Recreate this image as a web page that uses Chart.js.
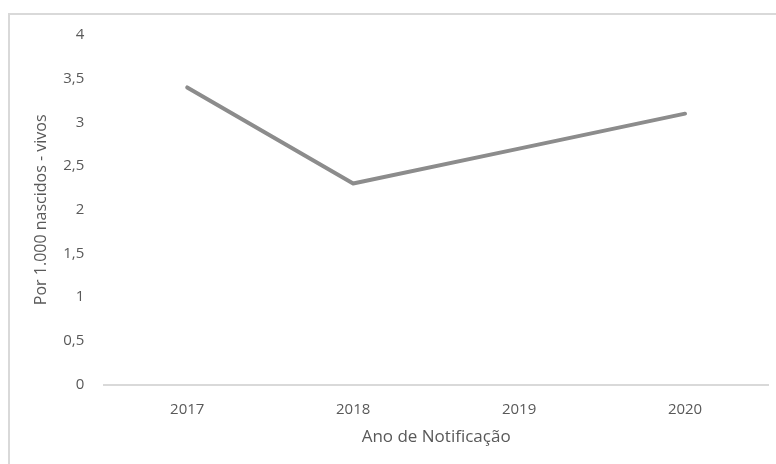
<!DOCTYPE html>
<html>
<head>
<meta charset="utf-8">
<script src="https://cdn.jsdelivr.net/npm/chart.js@4"></script>
<style>
    html, body { margin: 0; padding: 0; background: #fff; }
    .wrap { position: relative; width: 776px; height: 464px; overflow: hidden; }
    .frame { position: absolute; left: 8px; top: 13px; right: -10px; bottom: -10px;
             border-top: 2px solid #d9d9d9; border-left: 2px solid #d9d9d9; }
    canvas { position: absolute; left: 0; top: 0; }
</style>
</head>
<body>
<div class="wrap">
    <div class="frame"></div>
    <canvas id="chart" width="776" height="464"></canvas>
</div>
<script>
// Data
const anos = ['2017', '2018', '2019', '2020'];
const taxa = [3.4, 2.3, 2.7, 3.1];
const yTitulo = 'Por 1.000 nascidos - vivos';
const xTitulo = 'Ano de Notificação';

const fonte = "'Open Sans', 'Liberation Sans', sans-serif";
const cinzaTexto = '#595959';

new Chart(document.getElementById('chart'), {
    type: 'line',
    data: {
        labels: anos,
        datasets: [{
            data: taxa,
            borderColor: '#8c8c8c',
            borderWidth: 4,
            borderCapStyle: 'round',
            borderJoinStyle: 'round',
            pointRadius: 0,
            tension: 0,
            fill: false
        }]
    },
    options: {
        responsive: false,
        animation: false,
        layout: { padding: { left: 28, right: 8, top: 35, bottom: 13 } },
        plugins: {
            legend: { display: false },
            tooltip: { enabled: false }
        },
        scales: {
            x: {
                offset: true,
                grid: { display: false },
                border: { color: '#d9d9d9', width: 2 },
                ticks: { color: cinzaTexto, font: { family: fonte, size: 15 }, padding: 8 },
                title: {
                    display: true,
                    text: xTitulo,
                    color: cinzaTexto,
                    font: { family: fonte, size: 17 },
                    padding: { top: 0 }
                }
            },
            y: {
                min: 0,
                max: 4,
                grid: { display: false },
                border: { display: false },
                ticks: {
                    stepSize: 0.5,
                    color: cinzaTexto,
                    font: { family: fonte, size: 15 },
                    padding: 12,
                    callback: v => String(v).replace('.', ',')
                },
                title: {
                    display: true,
                    text: yTitulo,
                    color: cinzaTexto,
                    font: { family: fonte, size: 16 },
                    padding: { bottom: 0 }
                }
            }
        }
    }
});
</script>
</body>
</html>
